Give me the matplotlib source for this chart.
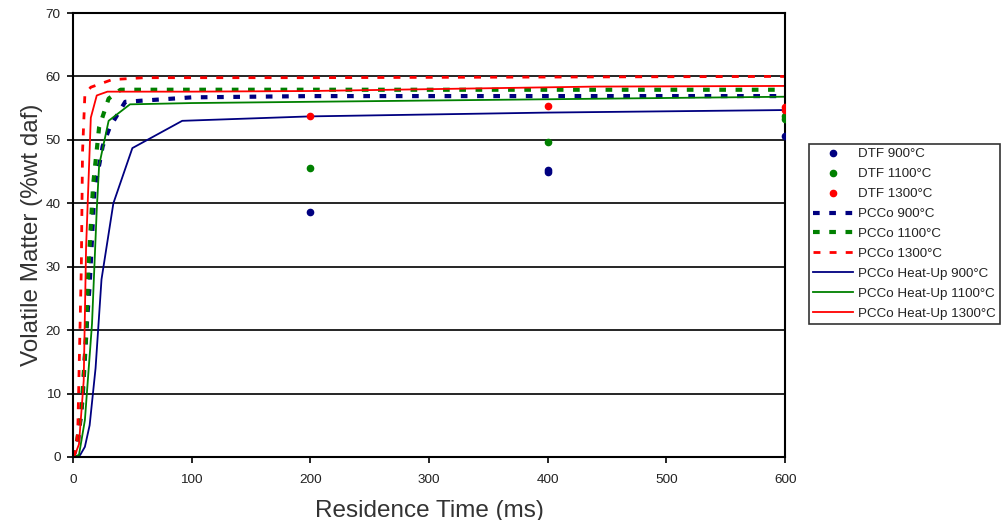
import matplotlib
matplotlib.use("Agg")
import matplotlib.pyplot as plt

plt.rcParams['font.family'] = ['Liberation Sans', 'DejaVu Sans']

# DTF measurements
dtf900_t = [200, 400, 400, 600]
dtf900_v = [38.6, 45.0, 45.3, 50.6]
dtf1100_t = [200, 400, 600, 600]
dtf1100_v = [45.5, 49.6, 53.3, 53.7]
dtf1300_t = [200, 400, 600, 600]
dtf1300_v = [53.7, 55.3, 54.7, 55.2]

# PCCo (isothermal)
pcco900_t = [0, 4, 8, 12, 14, 18, 25, 31, 44, 100, 200, 400, 600]
pcco900_v = [0, 2, 9, 22, 27, 42, 49, 52, 56, 56.7, 56.9, 56.9, 56.9]
pcco1100_t = [0, 3, 7, 11, 13, 17, 22, 30, 40, 100, 200, 400, 600]
pcco1100_v = [0, 2, 7, 19, 30, 43, 52, 56.5, 57.9, 57.9, 57.9, 57.9, 57.9]
pcco1300_t = [0, 2, 4, 7, 8, 10, 15, 33, 60, 200, 400, 600]
pcco1300_v = [0, 1, 4, 30, 48, 57.2, 58.3, 59.5, 59.8, 59.8, 59.9, 60.0]

# PCCo heat-up
hu900_t = [0, 6, 10, 14, 19, 24, 34, 50, 92, 200, 400, 600]
hu900_v = [0, 0.3, 1.6, 5, 14, 28, 40, 48.7, 53.0, 53.7, 54.3, 54.7]
hu1100_t = [0, 5, 10, 16, 20, 22, 30, 48, 100, 200, 400, 600]
hu1100_v = [0, 0.3, 5.8, 21, 39, 46, 53, 55.6, 55.8, 56.0, 56.4, 56.8]
hu1300_t = [0, 1, 5, 9, 11, 15, 20, 29, 100, 200, 440, 600]
hu1300_v = [0, 0, 2, 12, 33, 53.5, 57.0, 57.6, 57.6, 57.7, 58.4, 58.5]

navy = '#000080'
green = '#008000'
red = '#ff0000'

fig = plt.figure(figsize=(10.03, 5.2), dpi=100)
ax = fig.add_axes([0.0728, 0.1212, 0.71, 0.8538])

ax.plot(dtf900_t, dtf900_v, 'o', color=navy, ms=4.5, label='DTF 900°C', zorder=5)
ax.plot(dtf1100_t, dtf1100_v, 'o', color=green, ms=4.5, label='DTF 1100°C', zorder=5)
ax.plot(dtf1300_t, dtf1300_v, 'o', color=red, ms=4.5, label='DTF 1300°C', zorder=5)

ax.plot(pcco900_t, pcco900_v, color=navy, lw=3.0, dashes=(1.6, 2.3), label='PCCo 900°C')
ax.plot(pcco1100_t, pcco1100_v, color=green, lw=3.0, dashes=(1.6, 2.3), label='PCCo 1100°C')
ax.plot(pcco1300_t, pcco1300_v, color=red, lw=2.0, dashes=(2.5, 3.3), label='PCCo 1300°C')

ax.plot(hu900_t, hu900_v, color=navy, lw=1.3, label='PCCo Heat-Up 900°C')
ax.plot(hu1100_t, hu1100_v, color=green, lw=1.3, label='PCCo Heat-Up 1100°C')
ax.plot(hu1300_t, hu1300_v, color=red, lw=1.3, label='PCCo Heat-Up 1300°C')

ax.set_xlim(0, 600)
ax.set_ylim(0, 70)
ax.set_xticks(range(0, 601, 100))
ax.set_yticks(range(0, 71, 10))
ax.yaxis.grid(True, color='black', lw=1.2)
ax.set_axisbelow(True)
for s in ax.spines.values():
    s.set_linewidth(1.5)
ax.tick_params(axis='both', direction='out', length=4, width=1.2, labelsize=9.7,
               colors='black', labelcolor='#222222')
ax.tick_params(axis='x', pad=8)
ax.tick_params(axis='y', pad=5)

ax.set_xlabel('Residence Time (ms)', fontsize=17.5, color='#333333', labelpad=10)
ax.set_ylabel('Volatile Matter (%wt daf)', fontsize=17.5, color='#333333', labelpad=2)

leg = fig.legend(loc='upper left', bbox_to_anchor=(0.807, 0.723), fontsize=9.6,
                 frameon=True, fancybox=False, edgecolor='black', handlelength=3.0,
                 labelspacing=0.57, borderpad=0.3, handletextpad=0.35, borderaxespad=0)
leg.get_frame().set_linewidth(1.2)
for t in leg.get_texts():
    t.set_color('#222222')

fig.savefig('out.png', dpi=100)
